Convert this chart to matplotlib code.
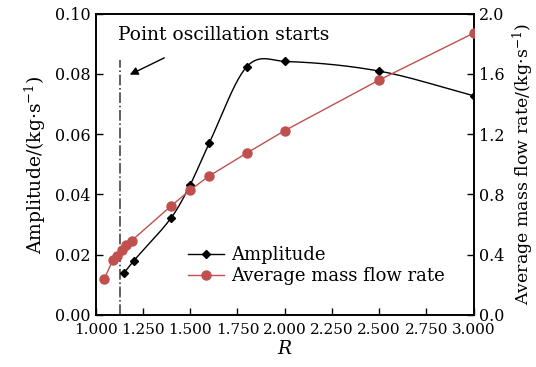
import numpy as np
import matplotlib
matplotlib.use("Agg")
import matplotlib.pyplot as plt

plt.rcParams['font.family'] = ['DejaVu Serif']
plt.rcParams['mathtext.fontset'] = 'dejavuserif'
plt.rcParams['font.size'] = 13.5

# amplitude (left axis)
r_amp = [1.15, 1.2, 1.4, 1.5, 1.6, 1.8, 2.0, 2.5, 3.0]
amplitude = [0.0140, 0.0179, 0.0323, 0.0432, 0.0570, 0.0824, 0.0841, 0.0809, 0.0727]

# average mass flow rate (right axis)
r_flow = [1.045, 1.09, 1.11, 1.14, 1.16, 1.19, 1.4, 1.5, 1.6, 1.8, 2.0, 2.5, 3.0]
flow = [0.239, 0.363, 0.389, 0.431, 0.462, 0.493, 0.725, 0.829, 0.922, 1.075, 1.223, 1.559, 1.870]

r_start = 1.13


def smooth_line(x, y, n=40):
    # Catmull-Rom style hermite curve through the points (only for drawing)
    x = np.asarray(x, float)
    y = np.asarray(y, float)
    m = np.zeros_like(y)
    m[1:-1] = (y[2:] - y[:-2]) / (x[2:] - x[:-2])
    m[0] = (y[1] - y[0]) / (x[1] - x[0])
    m[-1] = (y[-1] - y[-2]) / (x[-1] - x[-2])
    xs_all, ys_all = [], []
    for i in range(len(x) - 1):
        h = x[i + 1] - x[i]
        t = np.linspace(0, 1, n)
        h00 = 2 * t ** 3 - 3 * t ** 2 + 1
        h10 = t ** 3 - 2 * t ** 2 + t
        h01 = -2 * t ** 3 + 3 * t ** 2
        h11 = t ** 3 - t ** 2
        xs_all.append(x[i] + t * h)
        ys_all.append(h00 * y[i] + h10 * h * m[i] + h01 * y[i + 1] + h11 * h * m[i + 1])
    return np.concatenate(xs_all), np.concatenate(ys_all)


fig = plt.figure(figsize=(5.36, 3.67), dpi=100)
ax = fig.add_axes([0.1786, 0.1417, 0.7052, 0.8215])
ax2 = ax.twinx()

red = '#c0504d'
xs, ys = smooth_line(r_amp, amplitude)
ax.plot(xs, ys, color='black', lw=1.0, zorder=3)
ax.plot(r_amp, amplitude, ls='none', marker='D', ms=4.5, color='black', zorder=4)
ax2.plot(r_flow, flow, color=red, lw=1.0, marker='o', ms=6.5, zorder=3)

# legend proxies
ax.plot([], [], color='black', lw=1.0, marker='D', ms=4.5, label='Amplitude')
ax.plot([], [], color=red, lw=1.0, marker='o', ms=6.5, label='Average mass flow rate')
ax.legend(loc='lower left', bbox_to_anchor=(0.2, 0.045), frameon=False,
          handlelength=2.0, handletextpad=0.4, labelspacing=0.15, fontsize=13)

ax.plot([r_start, r_start], [0, 0.0846], color='#444444', lw=1.2, ls='-.')
ax.annotate('', xy=(1.167, 0.0793), xytext=(1.376, 0.0857),
            arrowprops=dict(arrowstyle='-|>', color='black', lw=1.0, mutation_scale=12))
ax.text(1.118, 0.0929, 'Point oscillation starts', fontsize=13.5, va='center', ha='left')

ax.set_xlim(1.0, 3.0)
ax.set_ylim(0, 0.10)
ax2.set_ylim(0, 2.0)
ax.set_xticks(np.arange(1.0, 3.01, 0.25))
ax.set_xticklabels(['%.3f' % v for v in np.arange(1.0, 3.01, 0.25)])
ax.set_yticks(np.arange(0, 0.101, 0.02))
ax.set_yticklabels(['%.2f' % v for v in np.arange(0, 0.101, 0.02)])
ax2.set_yticks(np.arange(0, 2.01, 0.4))
ax2.set_yticklabels(['%.1f' % v for v in np.arange(0, 2.01, 0.4)])

ax.tick_params(direction='in', length=5, width=1, top=False, right=False, labelsize=11.5)
ax.tick_params(axis='x', pad=6, labelsize=11)
ax.tick_params(axis='y', pad=4)
ax2.tick_params(direction='in', length=5, width=1, pad=4, labelsize=11.5)
for a in (ax, ax2):
    for s in a.spines.values():
        s.set_linewidth(1.2)

ax.set_xlabel('$R$', labelpad=2)
ax.set_ylabel('Amplitude/(kg\u00b7s$^{-1}$)', labelpad=5)
ax2.set_ylabel('Average mass flow rate/(kg\u00b7s$^{-1}$)', labelpad=4, fontsize=12.5)

fig.savefig('out.png', dpi=100)
